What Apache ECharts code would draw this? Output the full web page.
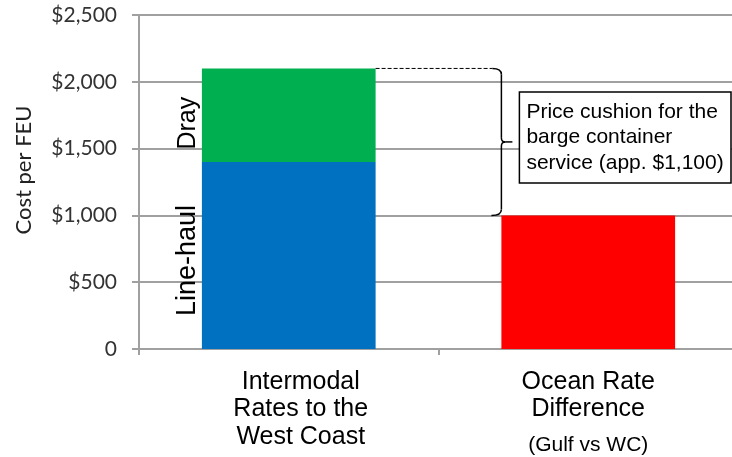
<!DOCTYPE html>
<html>
<head>
<meta charset="utf-8">
<script src="https://cdn.jsdelivr.net/npm/echarts@6/dist/echarts.min.js"></script>
<style>
  html, body { margin: 0; padding: 0; background: #fff; }
  #chart { width: 732px; height: 457px; }
</style>
</head>
<body>
<div id="chart"></div>
<script>
// Cost per FEU: intermodal (line-haul + dray) vs. ocean rate difference
const categories = ['Intermodal\nRates to the\nWest Coast', 'Ocean Rate\nDifference\n(Gulf vs WC)'];
const lineHaul = [1400, '-'];
const dray = [700, '-'];
const oceanDiff = ['-', 1000];
const yTicks = [0, 500, 1000, 1500, 2000, 2500];
const cushionText = 'Price cushion for the\nbarge container\nservice (app. $1,100)';

const AXIS_GRAY = '#a0a0a0';
const SANS = '"Liberation Sans", Arial, sans-serif';
const BAR_RATIO = 0.58;

const chart = echarts.init(document.getElementById('chart'), null, { renderer: 'canvas' });

function fmtMoney(v) {
  return v === 0 ? '0' : '$' + v.toLocaleString('en-US');
}

const option = {
  animation: false,
  backgroundColor: '#fff',
  grid: { left: 139, width: 599, top: 15, bottom: 108, containLabel: false, outerBoundsMode: 'none' },
  xAxis: {
    type: 'category',
    data: categories,
    axisLine: { lineStyle: { color: AXIS_GRAY, width: 2 } },
    axisTick: { show: true, length: 6, lineStyle: { color: AXIS_GRAY, width: 2 } },
    axisLabel: {
      margin: 19,
      interval: 0,
      formatter: function (value, idx) {
        const lines = value.split('\n');
        if (idx === 0) {
          return lines.map(l => '{a|' + l + '}').join('\n');
        }
        return '{b|' + lines[0] + '}\n{b|' + lines[1] + '}\n{s|' + lines[2] + '}';
      },
      rich: {
        a: { fontFamily: SANS, fontSize: 25, lineHeight: 27.5, color: '#000', padding: [0, 0, 0, 24] },
        b: { fontFamily: SANS, fontSize: 25, lineHeight: 27.5, color: '#000' },
        s: { fontFamily: SANS, fontSize: 21, lineHeight: 44, color: '#000' }
      }
    }
  },
  yAxis: {
    type: 'value',
    min: yTicks[0],
    max: yTicks[yTicks.length - 1],
    interval: yTicks[1] - yTicks[0],
    name: 'Cost per FEU',
    nameLocation: 'middle',
    nameGap: 104,
    nameRotate: 90,
    nameTextStyle: { fontFamily: 'Lato, sans-serif', fontSize: 22, color: '#222', padding: [0, 0, 0, 24] },
    axisLine: { show: true, lineStyle: { color: AXIS_GRAY, width: 2 } },
    axisTick: { show: true, length: 7, lineStyle: { color: AXIS_GRAY, width: 2 } },
    axisLabel: {
      margin: 22,
      fontFamily: 'Lato, sans-serif',
      fontSize: 21,
      color: '#333',
      formatter: fmtMoney
    },
    splitLine: { show: true, lineStyle: { color: AXIS_GRAY, width: 2 } }
  },
  series: [
    {
      name: 'Line-haul',
      type: 'bar',
      stack: 'cost',
      barWidth: (BAR_RATIO * 100) + '%',
      data: lineHaul,
      itemStyle: { color: '#0070C0' },
      label: {
        show: true,
        position: 'left',
        rotate: 90,
        align: 'center',
        verticalAlign: 'bottom',
        distance: 1,
        offset: [-5, 0],
        formatter: 'Line-haul',
        fontFamily: SANS,
        fontSize: 27,
        color: '#000'
      }
    },
    {
      name: 'Dray',
      type: 'bar',
      stack: 'cost',
      data: dray,
      itemStyle: { color: '#00B050' },
      label: {
        show: true,
        position: 'left',
        rotate: 90,
        align: 'center',
        verticalAlign: 'bottom',
        distance: 1,
        offset: [-8, 0],
        formatter: 'Dray',
        fontFamily: SANS,
        fontSize: 25,
        color: '#000'
      }
    },
    {
      name: 'Ocean Rate Difference',
      type: 'bar',
      stack: 'cost',
      data: oceanDiff,
      itemStyle: { color: '#FF0000' }
    }
  ]
};

chart.setOption(option);

// Bracket + callout between the intermodal total and the ocean rate difference
function drawCushion() {
  const total = lineHaul[0] + dray[0];
  const pTop = chart.convertToPixel({ gridIndex: 0 }, [0, total]);
  const pBot = chart.convertToPixel({ gridIndex: 0 }, [1, oceanDiff[1]]);
  const catW = pBot[0] - pTop[0];
  const half = catW * BAR_RATIO / 2;
  const barRight = pTop[0] + half;
  const bx = pBot[0] - half;
  const top = pTop[1];
  const bot = pBot[1];
  const mid = (top + bot) / 2;

  const ink = { stroke: '#000', lineWidth: 1.5, fill: null };
  const seg = (x1, y1, x2, y2) => ({ type: 'line', z: 100, shape: { x1, y1, x2, y2 }, style: ink });
  const curve = (x1, y1, cx, cy, x2, y2) => ({
    type: 'bezierCurve', z: 100,
    shape: { x1, y1, cpx1: cx, cpy1: cy, x2, y2 },
    style: ink
  });

  const boxX = bx + 18;
  const boxY = mid - 50;
  const boxH = 91;
  const boxW = 731 - boxX;

  chart.setOption({
    graphic: [
      {
        type: 'line',
        z: 100,
        shape: { x1: barRight, y1: top, x2: bx - 9, y2: top },
        style: { stroke: '#000', lineWidth: 1, lineDash: [4, 2] }
      },
      curve(bx - 9, top, bx, top, bx, top + 6),
      seg(bx, top + 6, bx, mid - 4),
      curve(bx, mid - 4, bx, mid, bx + 4, mid),
      seg(bx + 4, mid, bx + 11, mid),
      curve(bx + 4, mid, bx, mid, bx, mid + 4),
      seg(bx, mid + 4, bx, bot - 6),
      curve(bx, bot - 6, bx, bot, bx - 10, bot),
      {
        type: 'rect',
        z: 100,
        shape: { x: boxX, y: boxY, width: boxW, height: boxH },
        style: { fill: '#fff', stroke: '#000', lineWidth: 1.5 }
      },
      {
        type: 'text',
        z: 101,
        x: boxX + 7,
        y: boxY + boxH / 2,
        style: {
          text: cushionText,
          fontFamily: SANS,
          fontSize: 21,
          lineHeight: 25.5,
          fill: '#000',
          align: 'left',
          verticalAlign: 'middle'
        }
      }
    ]
  });
}

drawCushion();
</script>
</body>
</html>
